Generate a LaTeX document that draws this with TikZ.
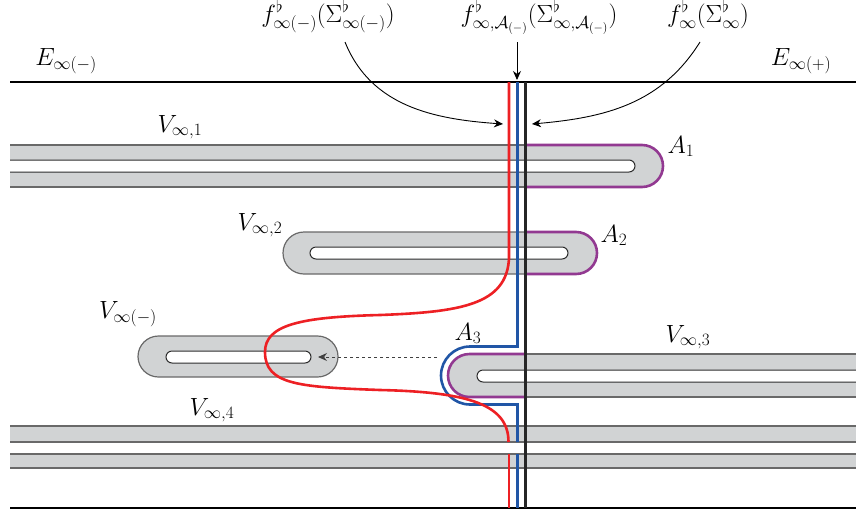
\documentclass[tikz,border=0pt]{standalone}
\usetikzlibrary{arrows.meta}
\definecolor{vfill}{RGB}{209,211,212}
\definecolor{vedge}{RGB}{105,105,105}
\definecolor{slotedge}{RGB}{45,45,45}
\definecolor{pur}{RGB}{146,57,145}
\definecolor{myred}{RGB}{237,32,36}
\definecolor{myblue}{RGB}{33,86,166}
\begin{document}
\begin{tikzpicture}[x=1pt,y=-1pt,
  lbl/.style={inner sep=0pt,anchor=base,font=\fontsize{23}{27}\selectfont},
  vf/.style={fill=vfill},
  ve/.style={draw=vedge,line width=1.2pt},
  slot/.style={fill=white,draw=slotedge,line width=1pt},
  purp/.style={draw=pur,line width=2.6pt},
  redl/.style={draw=myred,line width=2.6pt},
  bluel/.style={draw=myblue,line width=2.6pt},
  blk/.style={draw=black!85,line width=2.6pt},
  edge/.style={draw=black,line width=1.3pt},
  arr/.style={draw=black,line width=0.9pt,-{Stealth[length=9pt,width=8pt]}},
  darr/.style={draw=black!75,line width=0.9pt,dash pattern=on 3pt off 3pt,-{Stealth[length=9pt,width=8pt]}}]
\useasboundingbox (0,0) rectangle (856,512);

% ---- labels
\node[lbl] (fl) at (328,22) {$f^\flat_{\infty(-)}(\Sigma^\flat_{\infty(-)})$};
\node[lbl] (fm) at (539,22) {$f^\flat_{\infty,\mathcal{A}_{(-)}}(\Sigma^\flat_{\infty,\mathcal{A}_{(-)}})$};
\node[lbl] (fr) at (708,22) {$f^\flat_{\infty}(\Sigma^\flat_{\infty})$};
\node[lbl] (em) at (66,65) {$E_{\infty(-)}$};
\node[lbl] (ep) at (801,65) {$E_{\infty(+)}$};
\node[lbl] (v1) at (180,132) {$V_{\infty,1}$};
\node[lbl] (v2) at (260,230) {$V_{\infty,2}$};
\node[lbl] (vm) at (128,318) {$V_{\infty(-)}$};
\node[lbl] (v3) at (688,342) {$V_{\infty,3}$};
\node[lbl] (v4) at (212,415) {$V_{\infty,4}$};
\node[lbl] (a1) at (681,153) {$A_1$};
\node[lbl] (a2) at (614,242) {$A_2$};
\node[lbl] (a3) at (468,340) {$A_3$};

% ---- boundary lines
\draw[edge] (10,82) -- (856,82);
\draw[edge] (10,508) -- (856,508);

% ---- V_{infty,1}
\fill[vf] (10,145) -- (642,145) arc[start angle=-90,end angle=90,radius=21] -- (10,187) -- cycle;
\draw[ve] (10,145) -- (525,145);
\draw[ve] (10,187) -- (525,187);
\filldraw[slot] (10,160) -- (629,160) arc[start angle=-90,end angle=90,radius=6] -- (10,172);
\draw[purp] (525,145) -- (642,145) arc[start angle=-90,end angle=90,radius=21] -- (525,187);

% ---- V_{infty,2}
\fill[vf] (304,232) -- (576,232) arc[start angle=-90,end angle=90,radius=21] -- (304,274) arc[start angle=90,end angle=270,radius=21] -- cycle;
\draw[ve] (525,232) -- (304,232) arc[start angle=-90,end angle=-270,radius=21] -- (525,274);
\filldraw[slot] (316,247) -- (562,247) arc[start angle=-90,end angle=90,radius=6] -- (316,259) arc[start angle=90,end angle=270,radius=6] -- cycle;
\draw[purp] (525,232) -- (576,232) arc[start angle=-90,end angle=90,radius=21] -- (525,274);

% ---- V_{infty(-)}
\filldraw[vf,ve] (158.5,336) -- (317.5,336) arc[start angle=-90,end angle=90,radius=20.5] -- (158.5,377) arc[start angle=90,end angle=270,radius=20.5] -- cycle;
\filldraw[slot] (172,351) -- (305,351) arc[start angle=-90,end angle=90,radius=6] -- (172,363) arc[start angle=90,end angle=270,radius=6] -- cycle;

% ---- V_{infty,3}
\fill[vf] (856,354) -- (469.5,354) arc[start angle=-90,end angle=-270,radius=21.5] -- (856,397) -- cycle;
\draw[ve] (856,354) -- (525,354);
\draw[ve] (856,397) -- (525,397);
\filldraw[slot] (856,370) -- (483,370) arc[start angle=-90,end angle=-270,radius=6] -- (856,382);
\draw[purp] (525,354) -- (469.5,354) arc[start angle=-90,end angle=-270,radius=21.5] -- (525,397);

% ---- V_{infty,4}
\fill[vf] (10,426) rectangle (856,442);
\fill[vf] (10,454) rectangle (856,468);
\draw[ve] (10,426) -- (856,426);
\draw[ve] (10,442) -- (856,442);
\draw[ve] (10,454) -- (856,454);
\draw[ve] (10,468) -- (856,468);

% ---- vertical curves
\draw[blk] (525.5,82) -- (525.5,508);
\draw[bluel] (517.5,82) -- (517.5,346.5) -- (470,346.5) arc[start angle=-90,end angle=-270,radius=29] -- (517.5,404.5) -- (517.5,442);
\draw[bluel] (517.5,454) -- (517.5,508);
\draw[redl] (509,82) -- (509,258) .. controls (507,305) and (460,312) .. (380,315)
  .. controls (300,317) and (265,325) .. (265,352)
  .. controls (265,385) and (300,387) .. (380,390)
  .. controls (470,392) and (508.5,405) .. (508.5,442);
\draw[redl] (509,454) -- (509,508);

% ---- arrows
\coordinate (flo) at (345,42);
\coordinate (fmo) at (517,42);
\coordinate (fro) at (700,42);
\coordinate (lt) at (503,124);
\coordinate (mt) at (517,80);
\coordinate (rt) at (532,124);
\coordinate (ds) at (437,357);
\coordinate (de) at (318,357);
\draw[arr] (flo) to[out=-68,in=176] (lt);
\draw[arr] (fmo) -- (mt);
\draw[arr] (fro) to[out=-122,in=5] (rt);
\draw[darr] (ds) -- (de);
\end{tikzpicture}
\end{document}
